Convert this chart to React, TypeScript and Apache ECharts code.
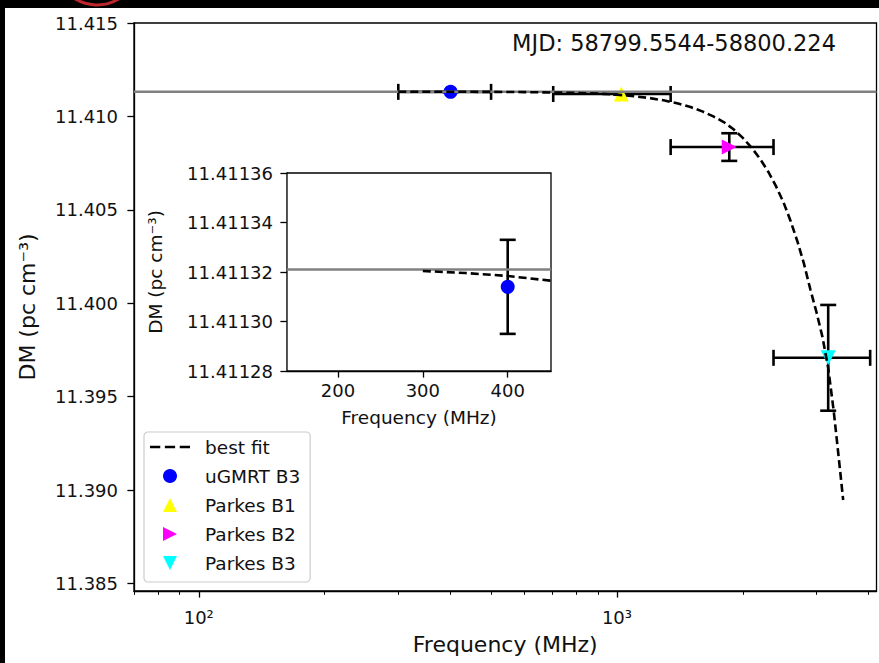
import React, { useEffect, useRef } from "react";
import * as echarts from "echarts";

const FONT = "DejaVu Sans";
const TXT = "#111111";

// main axes
const mainXMin = 70;
const mainXMax = 4175;
const mainYMin = 11.3846;
const mainYMax = 11.415;
const mainYTicks = [11.385, 11.39, 11.395, 11.4, 11.405, 11.41, 11.415];
const mainXMajor = [100, 1000];
const mainXMajorLabels = ["10²", "10³"];
const mainXMinor = [70, 80, 90, 200, 300, 400, 500, 600, 700, 800, 900, 2000, 3000, 4000];

// inset axes
const insetXMin = 140;
const insetXMax = 451;
const insetYMin = 11.41128;
const insetYMax = 11.41136;
const insetXTicks = [200, 300, 400];
const insetYTicks = [11.41128, 11.4113, 11.41132, 11.41134, 11.41136];

// infinite-frequency DM (grey line)
const dmInfinity = 11.411321;

// best fit curve
const fitFreq = [300, 350, 400, 450, 500, 600, 700, 800, 900, 1000, 1100, 1200, 1300, 1400, 1500, 1600, 1700, 1800, 1900, 2000, 2100, 2200, 2300, 2400, 2500, 2600, 2700, 2800, 2900, 3000, 3100, 3200, 3300, 3400, 3475];
const fitDM = [11.4113204, 11.4113196, 11.4113184, 11.4113165, 11.411314, 11.411301, 11.41128, 11.41126, 11.41122, 11.411167, 11.41108, 11.41098, 11.41085, 11.41069, 11.4105, 11.41027, 11.41, 11.4097, 11.40931, 11.40885, 11.40832, 11.40772, 11.40704, 11.40627, 11.40542, 11.40442, 11.40332, 11.40212, 11.40075, 11.39952, 11.3982, 11.39655, 11.3942, 11.3915, 11.38947];

// measurements
const groupNames = ["uGMRT B3", "Parkes B1", "Parkes B2", "Parkes B3"];
const groupFreq = [400, 1024, 1856, 3200];
const groupFreqLo = [300, 704, 1344, 2368];
const groupFreqHi = [500, 1344, 2368, 4032];
const groupDM = [11.411314, 11.4112, 11.40836, 11.39708];
const groupDMErr = [0.000019, 0.00004, 0.00074, 0.00283];
const groupColors = ["#0000ff", "#ffff00", "#ff00ff", "#00ffff"];
const groupSymbols = ["circle", "triangle", "triangle", "triangle"];
const groupRotate = [0, 0, -90, 180];
const groupSizes = [14, 15, 15, 15];
const groupLegendIcons = [
  "path://M7,0A7,7,0,1,1,6.99,0Z",
  "path://M7,0L14,14L0,14Z",
  "path://M0,0L14,7L0,14Z",
  "path://M0,0L14,0L7,14Z",
];
const fitLegendIcon = "path://M0,0h10v2.6h-10zM14.5,0h10v2.6h-10zM29,0h10v2.6h-10z";

const mjdText = "MJD: 58799.5544-58800.224";

function errRender(params: any, api: any) {
  const x = api.value(0);
  const y = api.value(1);
  const xl = api.value(2);
  const xh = api.value(3);
  const yl = api.value(4);
  const yh = api.value(5);
  const cap = 8;
  const style = { stroke: "#000", lineWidth: 2.6, fill: "none" };
  const children: any[] = [];
  if (xl !== xh) {
    const a = api.coord([xl, y]);
    const b = api.coord([xh, y]);
    children.push({ type: "line", shape: { x1: a[0], y1: a[1], x2: b[0], y2: b[1] }, style });
    children.push({ type: "line", shape: { x1: a[0], y1: a[1] - cap, x2: a[0], y2: a[1] + cap }, style });
    children.push({ type: "line", shape: { x1: b[0], y1: b[1] - cap, x2: b[0], y2: b[1] + cap }, style });
  }
  if (yl !== yh) {
    const a = api.coord([x, yl]);
    const b = api.coord([x, yh]);
    children.push({ type: "line", shape: { x1: a[0], y1: a[1], x2: b[0], y2: b[1] }, style });
    children.push({ type: "line", shape: { x1: a[0] - cap, y1: a[1], x2: a[0] + cap, y2: a[1] }, style });
    children.push({ type: "line", shape: { x1: b[0] - cap, y1: b[1], x2: b[0] + cap, y2: b[1] }, style });
  }
  return { type: "group", children };
}

export default function App() {
  const ref = useRef<HTMLDivElement>(null);
  useEffect(() => {
    if (!ref.current) return;
    const chart = echarts.init(ref.current, null, { renderer: "svg" });

    const fitData = fitFreq.map((f, i) => [f, fitDM[i]]);
    const errMain = groupFreq.map((f, i) => [f, groupDM[i], groupFreqLo[i], groupFreqHi[i], groupDM[i] - groupDMErr[i], groupDM[i] + groupDMErr[i]]);
    const errInset = [[groupFreq[0], groupDM[0], groupFreq[0], groupFreq[0], groupDM[0] - groupDMErr[0], groupDM[0] + groupDMErr[0]]];

    const axisLineStyle = { color: "#000", width: 1.3 };
    const labelStyle = { color: TXT, fontFamily: FONT, fontSize: 18 };

    const option: any = {
      animation: false,
      backgroundColor: "#ffffff",
      grid: [
        { left: 134, right: 2.5, top: 23, bottom: 72, show: true, borderColor: "#000", borderWidth: 1.3, backgroundColor: "transparent" },
        { left: 287, right: 328, top: 173, bottom: 292, show: true, borderColor: "#000", borderWidth: 1.3, backgroundColor: "#fff", z: 5 },
      ],
      xAxis: [
        {
          gridIndex: 0, type: "log", logBase: 10, min: mainXMin, max: mainXMax, position: "bottom",
          name: "Frequency (MHz)", nameLocation: "middle", nameGap: 42,
          nameTextStyle: { color: TXT, fontFamily: FONT, fontSize: 22 },
          axisLine: { show: true, lineStyle: axisLineStyle },
          axisTick: { show: true, length: 6.6, lineStyle: axisLineStyle, customValues: mainXMajor },
          axisLabel: { ...labelStyle, margin: 17, customValues: mainXMajor, formatter: (v: number) => mainXMajorLabels[mainXMajor.indexOf(Math.round(v))] ?? "" },
          splitLine: { show: false }, minorTick: { show: false },
        },
        {
          gridIndex: 0, type: "log", logBase: 10, min: mainXMin, max: mainXMax, position: "bottom", offset: 0,
          axisLine: { show: false },
          axisTick: { show: true, length: 3.8, lineStyle: { color: "#000", width: 1 }, customValues: mainXMinor },
          axisLabel: { show: false },
          splitLine: { show: false },
        },
        {
          gridIndex: 1, type: "value", min: insetXMin, max: insetXMax,
          name: "Frequency (MHz)", nameLocation: "middle", nameGap: 37,
          nameTextStyle: { color: TXT, fontFamily: FONT, fontSize: 18.5 },
          axisLine: { show: true, lineStyle: axisLineStyle },
          axisTick: { show: true, length: 6.6, lineStyle: axisLineStyle, customValues: insetXTicks },
          axisLabel: { ...labelStyle, margin: 10, customValues: insetXTicks, formatter: (v: number) => String(Math.round(v)) },
          splitLine: { show: false },
        },
      ],
      yAxis: [
        {
          gridIndex: 0, type: "value", min: mainYMin, max: mainYMax,
          name: "DM (pc cm⁻³)", nameLocation: "middle", nameGap: 96,
          nameTextStyle: { color: TXT, fontFamily: FONT, fontSize: 22 },
          axisLine: { show: true, lineStyle: axisLineStyle },
          axisTick: { show: true, length: 6.6, lineStyle: axisLineStyle, customValues: mainYTicks },
          axisLabel: { ...labelStyle, margin: 16, customValues: mainYTicks, formatter: (v: number) => v.toFixed(3) },
          splitLine: { show: false },
        },
        {
          gridIndex: 1, type: "value", min: insetYMin, max: insetYMax,
          name: "DM (pc cm⁻³)", nameLocation: "middle", nameGap: 122,
          nameTextStyle: { color: TXT, fontFamily: FONT, fontSize: 18.5 },
          axisLine: { show: true, lineStyle: axisLineStyle },
          axisTick: { show: true, length: 6.6, lineStyle: axisLineStyle, customValues: insetYTicks },
          axisLabel: { ...labelStyle, margin: 14, customValues: insetYTicks, formatter: (v: number) => v.toFixed(5) },
          splitLine: { show: false },
        },
      ],
      legend: {
        data: [
          { name: "best fit", icon: fitLegendIcon },
          ...groupNames.map((n, i) => ({ name: n, icon: groupLegendIcons[i] })),
        ],
        orient: "vertical",
        left: 144, top: 432,
        padding: [5, 10, 9, 6],
        itemGap: 9,
        itemWidth: 40,
        itemHeight: 14,
        symbolKeepAspect: true,
        backgroundColor: "rgba(255,255,255,0.8)",
        borderColor: "#cccccc",
        borderWidth: 1.2,
        borderRadius: 4,
        textStyle: { color: TXT, fontFamily: FONT, fontSize: 18.5, lineHeight: 20, padding: [0, 0, 0, 10] },
        selectedMode: false,
      },
      graphic: [
        { type: "rect", shape: { x: 0, y: 0, width: 879, height: 8 }, style: { fill: "#000" }, z: 100 },
        { type: "rect", shape: { x: 0, y: 0, width: 5, height: 663 }, style: { fill: "#000" }, z: 100 },
        { type: "circle", shape: { cx: 97, cy: -37.5, r: 42.5 }, style: { fill: "none", stroke: "#c0272d", lineWidth: 3 }, z: 101 },
        { type: "text", x: 836, y: 43, style: { text: mjdText, fontFamily: FONT, fontSize: 22.5, fill: TXT, textAlign: "right", textVerticalAlign: "middle" }, z: 50 },
      ],
      series: [
        {
          name: "grey main", type: "line", xAxisIndex: 0, yAxisIndex: 0,
          data: [[mainXMin, dmInfinity], [mainXMax, dmInfinity]],
          showSymbol: false, symbol: "none", lineStyle: { color: "#808080", width: 2.4 }, silent: true,
        },
        {
          name: "best fit", type: "line", xAxisIndex: 0, yAxisIndex: 0, data: fitData,
          showSymbol: false, symbol: "none", color: "#000", itemStyle: { color: "#000" },
          lineStyle: { color: "#000", width: 2.6, type: [8, 4] }, silent: true,
        },
        {
          name: "errors main", type: "custom", xAxisIndex: 0, yAxisIndex: 0, data: errMain,
          renderItem: errRender, clip: true, silent: true,
        },
        ...groupNames.map((n, i) => ({
          name: n, type: "scatter", xAxisIndex: 0, yAxisIndex: 0,
          data: [[groupFreq[i], groupDM[i]]],
          symbol: groupSymbols[i], symbolRotate: groupRotate[i], symbolSize: groupSizes[i],
          itemStyle: { color: groupColors[i], opacity: 1 }, color: groupColors[i], silent: true,
        })),
        {
          name: "grey inset", type: "line", xAxisIndex: 2, yAxisIndex: 1,
          data: [[insetXMin, dmInfinity], [insetXMax, dmInfinity]],
          showSymbol: false, symbol: "none", lineStyle: { color: "#808080", width: 2.4 }, silent: true, z: 6,
        },
        {
          name: "fit inset", type: "line", xAxisIndex: 2, yAxisIndex: 1, data: fitData,
          showSymbol: false, symbol: "none", clip: true,
          lineStyle: { color: "#000", width: 2.6, type: [8, 4] }, silent: true, z: 6,
        },
        {
          name: "errors inset", type: "custom", xAxisIndex: 2, yAxisIndex: 1, data: errInset,
          renderItem: errRender, clip: true, silent: true, z: 6,
        },
        {
          name: "uGMRT inset", type: "scatter", xAxisIndex: 2, yAxisIndex: 1,
          data: [[groupFreq[0], groupDM[0]]],
          symbol: "circle", symbolSize: 14, itemStyle: { color: groupColors[0], opacity: 1 }, silent: true, z: 6,
        },
      ],
    };
    chart.setOption(option);
    return () => chart.dispose();
  }, []);
  return <div ref={ref} style={{ position: "fixed", left: 0, top: 0, width: 879, height: 663 }} />;
}
